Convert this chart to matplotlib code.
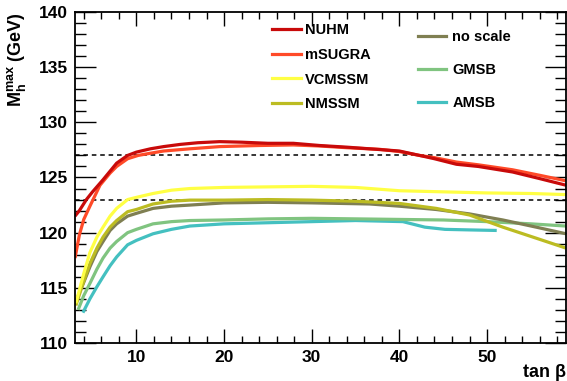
import numpy as np
import matplotlib
matplotlib.use('Agg')
import matplotlib.pyplot as plt
from matplotlib.ticker import MultipleLocator
from matplotlib.lines import Line2D

plt.rcParams.update({
    'font.family': ['Liberation Sans', 'DejaVu Sans'],
    'font.weight': 'bold',
    'mathtext.fontset': 'custom',
    'mathtext.rm': 'Liberation Sans:bold',
    'mathtext.it': 'Liberation Sans:bold',
    'mathtext.bf': 'Liberation Sans:bold',
    'mathtext.default': 'bf',
})

# --- values ---
tb_nuhm = [3, 3.5, 4.3, 5, 6.2, 7.75, 9, 10, 11.6, 13.1, 15, 17, 19.5, 22, 25,
           27.9, 30.9, 34, 36.6, 40, 42.3, 44, 46.5, 49, 52.9, 56, 59]
m_nuhm = [121.5, 122.0, 123.0, 123.7, 124.8, 126.3, 127.0, 127.3, 127.6, 127.8,
          128.0, 128.15, 128.25, 128.2, 128.1, 128.1, 127.9, 127.75, 127.6,
          127.4, 127.0, 126.7, 126.2, 126.0, 125.5, 124.9, 124.3]

tb_msugra = [3, 3.5, 4, 4.7, 5.85, 7, 7.75, 9, 10.2, 11.6, 13.1, 16.1, 19.5, 24,
             27.9, 31, 34, 37.8, 40, 42.3, 44, 46.5, 49, 52.9, 56, 59]
m_msugra = [117.7, 119.8, 121.2, 122.4, 124.3, 125.4, 126.0, 126.7, 127.0,
            127.2, 127.4, 127.6, 127.8, 127.9, 127.95, 127.85, 127.7, 127.55,
            127.35, 127.0, 126.8, 126.4, 126.15, 125.7, 125.2, 124.7]

tb_vcmssm = [3.1, 4, 4.7, 5.5, 6.2, 7, 7.75, 9, 10, 11.9, 14, 16.1, 20, 25, 30,
             35, 40, 45, 50, 55, 59]
m_vcmssm = [113.6, 116.3, 118.2, 119.6, 120.5, 121.5, 122.2, 123.0, 123.2,
            123.55, 123.85, 124.0, 124.1, 124.15, 124.2, 124.1, 123.8, 123.7,
            123.6, 123.55, 123.45]

tb_nmssm = [3.1, 4, 4.7, 5.5, 6.2, 7, 7.75, 9, 10, 11.9, 14, 16.1, 20, 25, 30,
            35, 40, 44.2, 48, 51.8, 55.6, 59]
m_nmssm = [113.4, 115.6, 117.2, 118.6, 119.6, 120.5, 121.1, 121.9, 122.1, 122.6,
           122.85, 122.95, 122.95, 123.0, 122.95, 122.85, 122.65, 122.2, 121.6,
           120.5, 119.5, 118.6]

tb_noscale = [3.1, 4, 4.7, 5.5, 6.2, 7, 7.75, 9, 10, 11.9, 14, 16.1, 20, 25, 30,
              36.6, 40, 44.2, 48, 51.8, 55.6, 59]
m_noscale = [113.8, 115.5, 116.9, 118.3, 119.2, 120.2, 120.8, 121.5, 121.75,
             122.2, 122.4, 122.5, 122.7, 122.75, 122.7, 122.6, 122.4, 122.1,
             121.7, 121.15, 120.5, 119.9]

tb_gmsb = [3.35, 4, 4.7, 5.5, 6.2, 7, 7.75, 9, 10, 11.9, 14, 16.1, 20, 25, 30,
           35, 40, 45, 50, 55, 59]
m_gmsb = [113.0, 114.3, 115.4, 116.7, 117.7, 118.6, 119.2, 120.0, 120.3, 120.8,
          121.0, 121.1, 121.15, 121.25, 121.3, 121.25, 121.2, 121.15, 121.0,
          120.8, 120.6]

tb_amsb = [3.9, 4.7, 5.5, 6.2, 7, 7.75, 9, 10, 11.9, 14, 16.1, 20, 25, 30, 35,
           40.4, 42.9, 45.2, 48, 51.1]
m_amsb = [112.75, 114.0, 115.1, 116.0, 117.0, 117.8, 118.9, 119.3, 119.9, 120.3,
          120.6, 120.8, 120.9, 121.0, 121.1, 121.0, 120.5, 120.3, 120.25, 120.2]

lhc_band = [123, 127]

col1 = [('NUHM', tb_nuhm, m_nuhm, '#c80a0a'),
        ('mSUGRA', tb_msugra, m_msugra, '#ff4a28'),
        ('VCMSSM', tb_vcmssm, m_vcmssm, '#ffff44'),
        ('NMSSM', tb_nmssm, m_nmssm, '#bcbc22')]
col2 = [('no scale', tb_noscale, m_noscale, '#7f7f52'),
        ('GMSB', tb_gmsb, m_gmsb, '#80c480'),
        ('AMSB', tb_amsb, m_amsb, '#44c0c0')]

fig = plt.figure(figsize=(5.67, 3.81), dpi=100)
ax = fig.add_axes([75/567, 1 - 343/381, 491/567, 331/381])

for v in lhc_band:
    ax.axhline(v, color='black', lw=1.1, ls=(0, (3, 2.5)), zorder=1)

# draw back to front like the original
for name, x, y, c in col2[::-1] + col1[::-1]:
    ax.plot(x, y, color=c, lw=2.3, solid_capstyle='butt', zorder=2)

ax.set_xlim(3, 59)
ax.set_ylim(110, 140)
ax.xaxis.set_major_locator(MultipleLocator(10))
ax.xaxis.set_minor_locator(MultipleLocator(2))
ax.yaxis.set_major_locator(MultipleLocator(5))
ax.yaxis.set_minor_locator(MultipleLocator(1))
ax.tick_params(which='both', direction='in', top=True, right=True,
               labelsize=12.5, width=1, pad=5)
ax.tick_params(axis='x', which='major', length=10)
ax.tick_params(axis='x', which='minor', length=5)
ax.tick_params(axis='y', which='major', length=15)
ax.tick_params(axis='y', which='minor', length=8)
for s in ax.spines.values():
    s.set_linewidth(1.3)
for lab in ax.get_xticklabels() + ax.get_yticklabels():
    lab.set_fontweight('bold')

ax.set_xlabel('tan β', fontsize=13, fontweight='bold', ha='right')
ax.xaxis.set_label_coords(1.0, -0.062)
ax.set_ylabel(r'$M_h^{max}$ (GeV)', fontsize=13, fontweight='bold',
              loc='top', labelpad=8)

h1 = [Line2D([], [], color=c, lw=2.3) for _, _, _, c in col1]
h2 = [Line2D([], [], color=c, lw=2.3) for _, _, _, c in col2]
leg1 = ax.legend(h1, [n for n, *_ in col1], loc='upper left',
                 bbox_to_anchor=(0.401, 0.967), frameon=False, borderpad=0,
                 borderaxespad=0, handlelength=2.0, handletextpad=0.25,
                 labelspacing=0.74, prop={'size': 10.5, 'weight': 'bold'})
ax.add_artist(leg1)
ax.legend(h2, [n for n, *_ in col2], loc='upper left',
          bbox_to_anchor=(0.699, 0.946), frameon=False, borderpad=0,
          borderaxespad=0, handlelength=1.9, handletextpad=0.45,
          labelspacing=1.32, prop={'size': 10.5, 'weight': 'bold'})

fig.savefig('out.png', dpi=100)
